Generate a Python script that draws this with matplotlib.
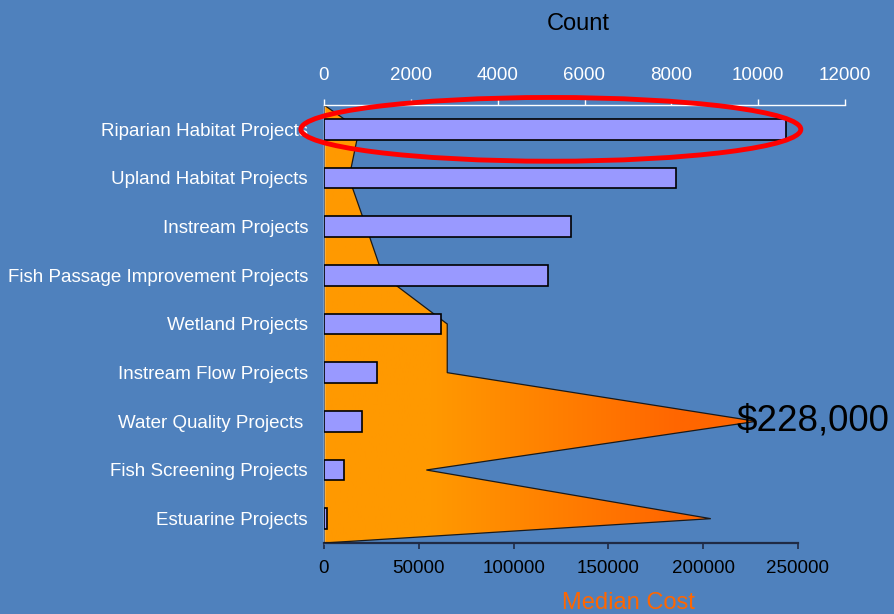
import matplotlib
matplotlib.use("Agg")
import matplotlib.pyplot as plt
import numpy as np
from matplotlib.patches import Polygon, Ellipse
from matplotlib.colors import LinearSegmentedColormap

plt.rcParams['font.family'] = ['Liberation Sans', 'DejaVu Sans']

# Project types, top to bottom
categories = [
    "Riparian Habitat Projects",
    "Upland Habitat Projects",
    "Instream Projects",
    "Fish Passage Improvement Projects",
    "Wetland Projects",
    "Instream Flow Projects",
    "Water Quality Projects ",
    "Fish Screening Projects",
    "Estuarine Projects",
]
project_count = [10650, 8100, 5700, 5150, 2700, 1230, 880, 460, 70]
median_cost = [18500, 13200, 22200, 31000, 65000, 65000, 228000, 54000, 204000]

count_ticks = [0, 2000, 4000, 6000, 8000, 10000, 12000]
cost_ticks = [0, 50000, 100000, 150000, 200000, 250000]
peak_label = "$228,000"

BG = "#4F81BD"
W, H = 895, 614
fig = plt.figure(figsize=(W / 100, H / 100), dpi=100, facecolor=BG)

left, right_count, right_cost = 324, 845, 798
top, bottom = 105, 543
ax_cost = fig.add_axes([left / W, (H - bottom) / H, (right_count - left) / W, (bottom - top) / H])
ax_cost.set_facecolor(BG)

# cost axis spans a shorter width than the count axis
cost_max = cost_ticks[-1] * (right_count - left) / (right_cost - left)
n = len(categories)
ypos = np.arange(n)

# median cost shape with horizontal orange gradient
verts = [(0, -0.5)] + list(zip(median_cost, ypos)) + [(0, n - 0.5)]
shape = Polygon(verts, closed=True, facecolor="none", edgecolor="#1a1a1a",
                linewidth=0.9, zorder=3)
ax_cost.add_patch(shape)
cmap = LinearSegmentedColormap.from_list(
    "orange", [(0.0, "#FF9900"), (0.25, "#FF9900"), (0.82, "#FF6600"), (1.0, "#FF6600")])
grad = np.linspace(0, 1, 256).reshape(1, -1)
img = ax_cost.imshow(grad, cmap=cmap, aspect="auto",
                     extent=[0, max(median_cost), n - 0.5, -0.5], zorder=2)
img.set_clip_path(shape)
ax_cost.set_xlim(0, cost_max)
ax_cost.set_ylim(n - 0.5, -0.5)

ax_cost.text(217800, 6, peak_label, fontsize=26.5, color="black",
             ha="left", va="center", zorder=6)

# axes styling for the cost axis
ax_cost.set_xticks(cost_ticks)
ax_cost.set_xticklabels([str(t) for t in cost_ticks])
ax_cost.tick_params(axis="x", colors="#1F2A44", labelcolor="black",
                    labelsize=13.5, length=4, width=1.2, pad=8, direction="out")
ax_cost.spines["bottom"].set_bounds(0, cost_ticks[-1])
ax_cost.spines["bottom"].set_color("#1F2A44")
ax_cost.spines["bottom"].set_linewidth(1.6)
ax_cost.spines["left"].set_color("white")
ax_cost.spines["left"].set_linewidth(1.0)
ax_cost.spines["top"].set_visible(False)
ax_cost.spines["right"].set_visible(False)
ax_cost.set_yticks(ypos)
ax_cost.set_yticklabels(categories)
ax_cost.tick_params(axis="y", length=0, labelsize=13.5, labelcolor="white", pad=11.5)

# project count bars on the top axis
ax_count = ax_cost.twiny()
ax_count.set_xlim(0, count_ticks[-1])
ax_count.barh(ypos, project_count, height=0.43, color="#9999FF",
              edgecolor="black", linewidth=1.2, zorder=4)
ax_count.set_xticks(count_ticks)
ax_count.set_xticklabels([str(t) for t in count_ticks])
ax_count.tick_params(axis="x", colors="white", labelcolor="white",
                     labelsize=13.5, length=4, width=1.0, pad=11, direction="out")
for s in ["bottom", "left", "right"]:
    ax_count.spines[s].set_visible(False)
ax_count.spines["top"].set_color("white")
ax_count.spines["top"].set_linewidth(1.0)

# highlight around the most common project type
ring = Ellipse((5225, 0.0), width=11515, height=1.31, fill=False,
               edgecolor="#FF0000", linewidth=3.5, zorder=7, clip_on=False)
ax_count.add_patch(ring)

fig.text(578 / W, 1 - 24 / H, "Count", fontsize=17, color="black",
         ha="center", va="center")
fig.text(628 / W, 1 - 609 / H, "Median Cost", fontsize=17, color="#FF6600",
         ha="center", va="baseline")

fig.savefig("out.png", dpi=100, facecolor=BG)
